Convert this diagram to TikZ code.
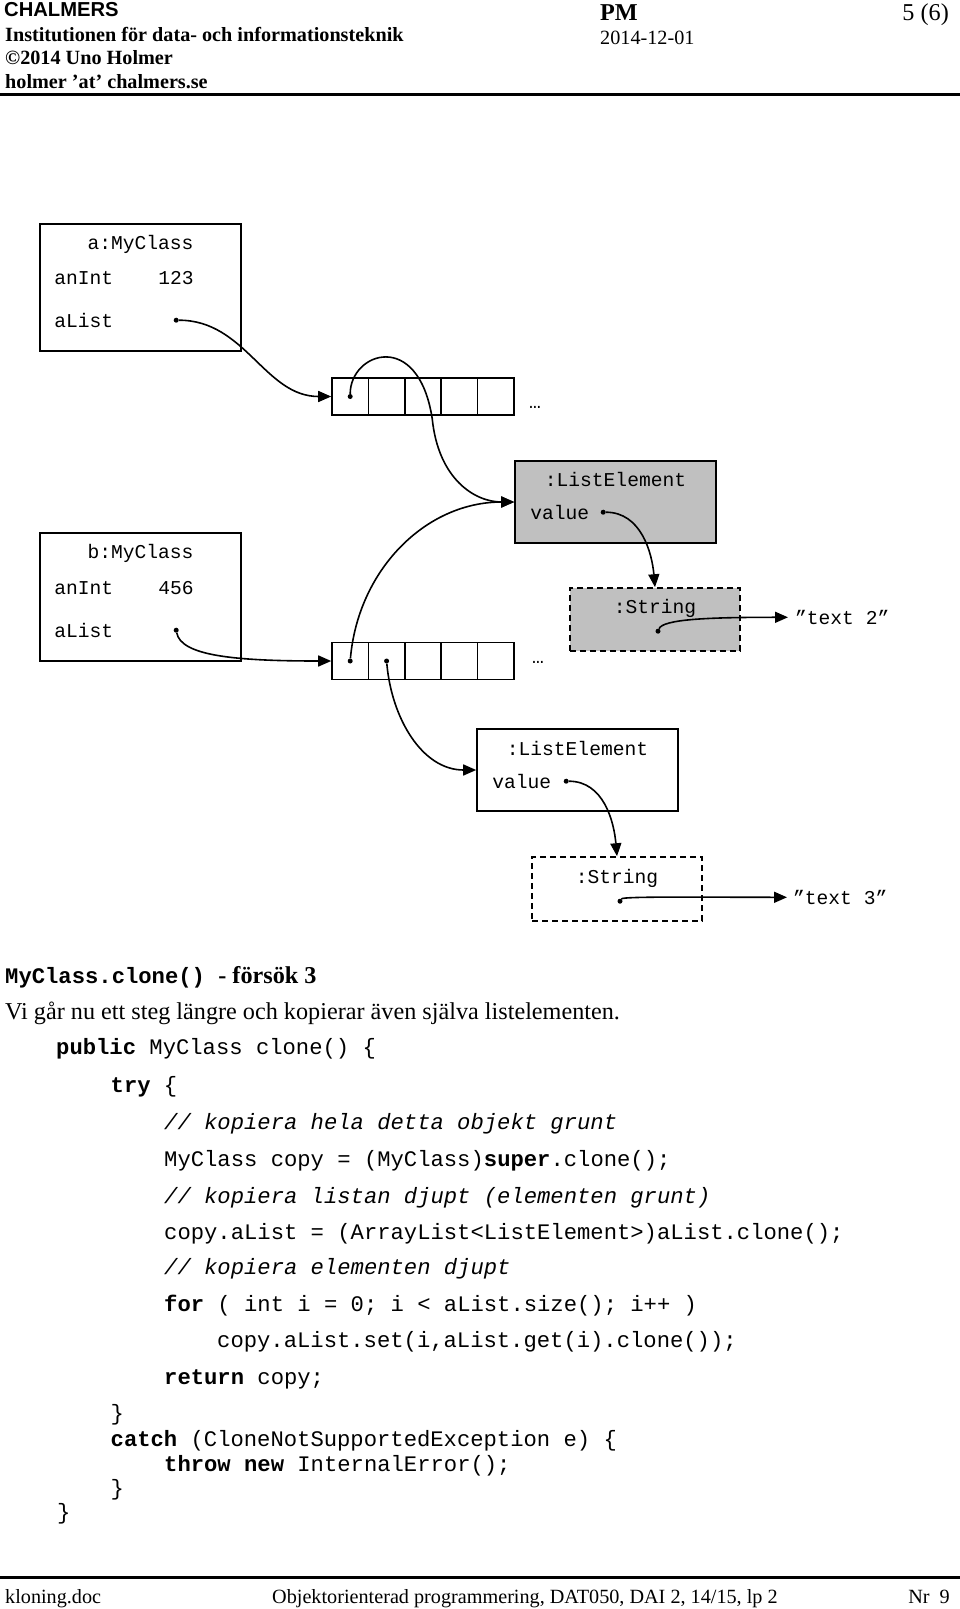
\documentclass[tikz,border=0pt]{standalone}
\usepackage{fontspec}
\setmainfont{Liberation Serif}
\setsansfont{Liberation Sans}
\setmonofont{Liberation Mono}
\usetikzlibrary{arrows.meta}
\usetikzlibrary{calc}
\usepackage{xcolor}

\definecolor{objgray}{HTML}{C0C0C0}
\newcommand{\diagfont}{\ttfamily\fontsize{19.6}{22}\selectfont}
\newcommand{\codefont}{\ttfamily\fontsize{22.2}{26}\selectfont}
\newcommand{\bodyfont}{\rmfamily\fontsize{24.2}{28}\selectfont}
\newcommand{\smallfont}{\rmfamily\fontsize{20.2}{24}\selectfont}
\newcommand{\kw}[1]{\textbf{#1}}
\newcommand{\cm}[1]{\textit{#1}}

\tikzset{
  obj/.style={draw, line width=1.6pt, inner sep=0pt, minimum width=201pt},
  strobj/.style={draw, line width=1.6pt, dash pattern=on 6pt off 4pt, inner sep=0pt, minimum width=170pt, minimum height=63pt},
  cell/.style={draw, line width=1.6pt, inner sep=0pt, minimum width=36.4pt, minimum height=37pt},
  lbl/.style={font=\diagfont, inner sep=0pt},
  dot/.style={circle, fill, inner sep=0pt, minimum size=5pt},
  ref/.style={line width=1.6pt, -{Triangle[length=13pt,width=11pt]}},
  code/.style={font=\codefont, anchor=mid west, inner sep=0pt},
  txt/.style={anchor=base west, inner sep=0pt},
}

\begin{document}
\begin{tikzpicture}[x=1pt,y=-1pt]
  \useasboundingbox (0,0) rectangle (960,1609);

  % Header
  \node[txt, font=\sffamily\bfseries\fontsize{20.2}{24}\selectfont] (hSchool) at (4,16) {CHALMERS};
  \node[txt, font=\smallfont\bfseries] (hDept) at (5,41) {Institutionen för data- och informationsteknik};
  \node[txt, font=\smallfont\bfseries] (hCopy) at (5,64.5) {©2014 Uno Holmer};
  \node[txt, font=\smallfont\bfseries] (hMail) at (5,88) {holmer ’at’ chalmers.se};
  \node[txt, font=\bodyfont\bfseries] (hPM) at (600,20.5) {PM};
  \node[txt, font=\smallfont] (hDate) at (600,44.5) {2014-12-01};
  \node[anchor=base east, inner sep=0pt, font=\bodyfont] (hPage) at (949,20.5) {5 (6)};
  \draw[line width=2.5pt] (0,94.4) -- (960,94.4);

  % Objects a and b
  \node[obj, minimum height=127pt] (objA) at (140.5,287.5) {};
  \node[lbl, anchor=mid] (nameA) at ($(objA.north)+(0,24)$) {a:MyClass};
  \node[lbl, anchor=mid west] (intA) at ($(objA.north west)+(15,59)$) {anInt};
  \node[lbl, anchor=mid west] (valA) at ($(objA.north west)+(119,59)$) {123};
  \node[lbl, anchor=mid west] (listA) at ($(objA.north west)+(15,102)$) {aList};
  \node[dot] (pA) at ($(objA.north west)+(137,97)$) {};

  \node[obj, minimum height=128pt] (objB) at (140.5,597) {};
  \node[lbl, anchor=mid] (nameB) at ($(objB.north)+(0,24)$) {b:MyClass};
  \node[lbl, anchor=mid west] (intB) at ($(objB.north west)+(15,60)$) {anInt};
  \node[lbl, anchor=mid west] (valB) at ($(objB.north west)+(119,60)$) {456};
  \node[lbl, anchor=mid west] (listB) at ($(objB.north west)+(15,103)$) {aList};
  \node[dot] (pB) at ($(objB.north west)+(137,98)$) {};

  % Arrays
  \foreach \i in {1,...,5}
  {
    \node[cell] (A\i) at ({332+36.4*(\i-0.5)},396.5) {};
    \node[cell] (B\i) at ({332+36.4*(\i-0.5)},661) {};
  }
  \node[lbl, anchor=base] (moreA) at (535,408) {…};
  \node[lbl, anchor=base] (moreB) at (538,663) {…};
  \node[dot] (pA1) at (A1.center) {};
  \node[dot] (pB1) at (B1.center) {};
  \node[dot] (pB2) at (B2.center) {};

  % List elements and strings
  \node[obj, fill=objgray, minimum height=82pt] (le1) at (615.5,502) {};
  \node[lbl, anchor=mid] (le1name) at ($(le1.north)+(0,24)$) {:ListElement};
  \node[lbl, anchor=mid west] (le1val) at ($(le1.north west)+(16,57)$) {value};
  \node[dot] (vd1) at ($(le1.north west)+(89,52)$) {};

  \node[strobj, fill=objgray] (str1) at (655,619.5) {};
  \node[lbl, anchor=mid] (str1name) at ($(str1.north)+(0,24)$) {:String};
  \node[dot] (sd1) at ($(str1.north)+(3,44)$) {};
  \node[lbl, anchor=mid west, inner xsep=7pt] (txt2) at (788,622) {”text 2”};

  \node[obj, minimum height=82pt] (le2) at (577.5,770) {};
  \node[lbl, anchor=mid] (le2name) at ($(le2.north)+(0,25)$) {:ListElement};
  \node[lbl, anchor=mid west] (le2val) at ($(le2.north west)+(16,58)$) {value};
  \node[dot] (vd2) at ($(le2.north west)+(90,53)$) {};

  \node[strobj, minimum height=64pt] (str2) at (617,889) {};
  \node[lbl, anchor=mid] (str2name) at ($(str2.north)+(0,25)$) {:String};
  \node[dot] (sd2) at ($(str2.north)+(3,45)$) {};
  \node[lbl, anchor=mid west, inner xsep=6pt] (txt3) at (787,902) {”text 3”};

  % References
  \draw[ref] (pA) to[out=0,in=180] (A1.west);
  \draw[ref] (pB) .. controls +(5,25) and +(-100,0) .. (B1.west);
  \draw[ref] (pA1) .. controls +(0,-44) and +(-14,-90) .. ($(pA1)+(82,22)$) .. controls +(6,60) and +(-40,0) .. (le1.west);
  \draw[ref] (pB1) to[out=85,in=180] (le1.west);
  \draw[ref] (pB2) to[out=-85,in=180] (le2.west);
  \draw[ref] (vd1) to[out=0,in=95] (str1.north);
  \draw[ref] (vd2) to[out=0,in=95] (str2.north);
  \draw[ref] (sd1) .. controls +(5,-12) and +(-80,0) .. (txt2.west);
  \draw[ref] (sd2) .. controls +(3,-5) and +(-80,0) .. (txt3.west);

  % Text and code
  \node[txt] (heading) at (5,983.5) {{\codefont\bfseries MyClass.clone() }{\bodyfont\bfseries - försök 3}};
  \node[txt, font=\bodyfont] (intro) at (5,1019) {Vi går nu ett steg längre och kopierar även själva listelementen.};
  \node[code] (c1) at (56,1052) {\kw{public} MyClass clone() \{};
  \node[code] (c2) at (110.5,1090) {\kw{try} \{};
  \node[code] (c3) at (164,1127) {\cm{// kopiera hela detta objekt grunt}};
  \node[code] (c4) at (164,1164) {MyClass copy = (MyClass)\kw{super}.clone();};
  \node[code] (c5) at (164,1200.8) {\cm{// kopiera listan djupt (elementen grunt)}};
  \node[code] (c6) at (164,1236.7) {copy.aList = (ArrayList<ListElement>)aList.clone();};
  \node[code] (c7) at (164,1272.6) {\cm{// kopiera elementen djupt}};
  \node[code] (c8) at (164,1309.5) {\kw{for} ( int i = 0; i < aList.size(); i++ )};
  \node[code] (c9) at (217,1345.4) {copy.aList.set(i,aList.get(i).clone());};
  \node[code] (c10) at (164,1382.4) {\kw{return} copy;};
  \node[code] (c11) at (110.5,1418.3) {\}};
  \node[code] (c12) at (110.5,1443.9) {\kw{catch} (CloneNotSupportedException e) \{};
  \node[code] (c13) at (164,1469.5) {\kw{throw} \kw{new} InternalError();};
  \node[code] (c14) at (110.5,1493.1) {\}};
  \node[code] (c15) at (57,1516.7) {\}};

  % Footer
  \draw[line width=2.5pt] (0,1577.5) -- (960,1577.5);
  \node[txt, font=\smallfont] (fFile) at (5,1603) {kloning.doc};
  \node[txt, font=\smallfont] (fCourse) at (272,1603) {Objektorienterad programmering, DAT050, DAI 2, 14/15, lp 2};
  \node[anchor=base east, inner sep=0pt, font=\smallfont] (fNr) at (950,1603) {Nr~~9};
\end{tikzpicture}
\end{document}
